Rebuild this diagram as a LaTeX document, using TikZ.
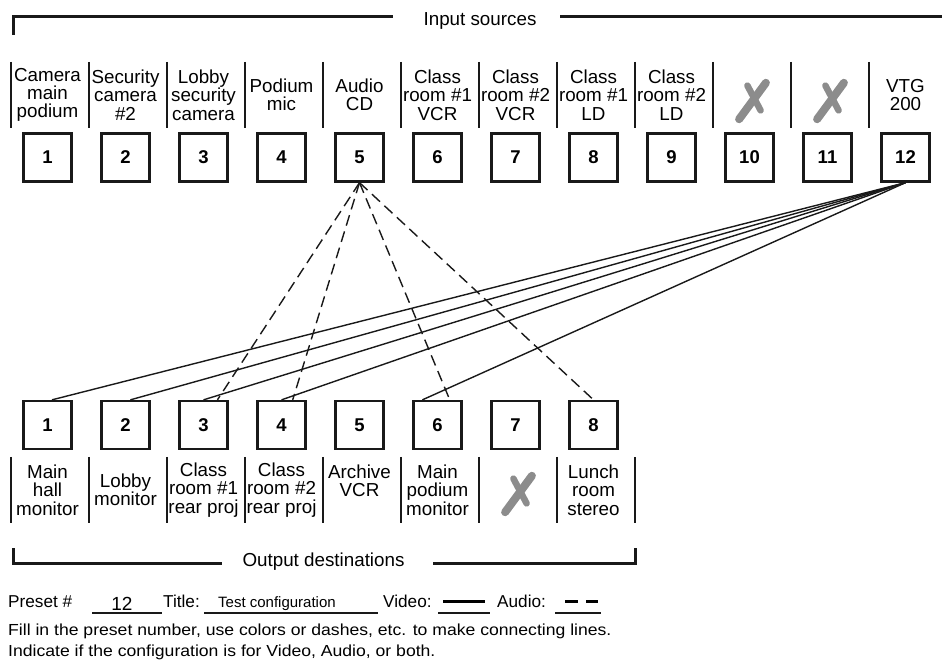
\documentclass[tikz,border=0pt]{standalone}
\usepackage{fontspec}
\setmainfont{Liberation Sans}
\newfontfamily\notefont[FakeStretch=1.1]{Liberation Sans}
\usepackage{tikz}
\usetikzlibrary{positioning}

\begin{document}
\begin{tikzpicture}[
    x=1pt, y=-1pt,
    font=\fontsize{18.8}{18.3}\selectfont,
    % Define specific node styles
    port_box/.style={rectangle, draw=black!90, line width=2.3pt, minimum size=48pt, inner sep=0pt, font=\fontsize{18.5}{18.5}\selectfont\bfseries},
    port_label/.style={rectangle, minimum width=73pt, minimum height=66pt, inner sep=0pt, align=center},
    sep_line/.style={line width=1.8pt, draw=black!90},
    bracket_line/.style={line width=3pt, draw=black!90},
    group_title/.style={inner sep=0pt},
    video_line/.style={line width=1.4pt, draw=black!90},
    audio_line/.style={line width=1.4pt, draw=black!90, dash pattern=on 11pt off 6pt},
    form_text/.style={inner sep=0pt, anchor=base west, font=\fontsize{17.2}{18}\selectfont},
    blank_line/.style={line width=1.7pt, draw=black!90},
    xmark/.pic={
        \draw[line width=8pt, line cap=round, black!45] (-10.4,19.2) -- (16.4,-17.2);
        \draw[line width=6.5pt, line cap=round, black!45] (-2.1,-14.4) -- (11.1,10.4);
    },
]
\useasboundingbox (0,0) rectangle (942,663);

% Input sources (top row)
\node[group_title] (in_title) at (480,21) {Input sources};
\draw[bracket_line] (13,35) -- (13,17) -- (393,17);
\draw[bracket_line] (560,17) -- (942,17);

\node[port_label] (ls1) at (47.5,95) {Camera\\main\\podium};
\node[port_label] (ls2) at (125.5,95) {Security\\camera\\\#2};
\node[port_label] (ls3) at (203.5,95) {Lobby\\security\\camera};
\node[port_label] (ls4) at (281.5,95) {Podium\\mic};
\node[port_label] (ls5) at (359.5,95) {Audio\\CD};
\node[port_label] (ls6) at (437.5,95) {Class\\room \#1\\VCR};
\node[port_label] (ls7) at (515.5,95) {Class\\room \#2\\VCR};
\node[port_label] (ls8) at (593.5,95) {Class\\room \#1\\LD};
\node[port_label] (ls9) at (671.5,95) {Class\\room \#2\\LD};
\node[port_label] (ls10) at (749.5,95) {};
\node[port_label] (ls11) at (827.5,95) {};
\node[port_label] (ls12) at (905.5,95) {VTG\\200};
\pic at (749.5,100) {xmark};
\pic at (827.5,100) {xmark};

\node[port_box] (s1) at (47.5,157.5) {1};
\node[port_box] (s2) at (125.5,157.5) {2};
\node[port_box] (s3) at (203.5,157.5) {3};
\node[port_box] (s4) at (281.5,157.5) {4};
\node[port_box] (s5) at (359.5,157.5) {5};
\node[port_box] (s6) at (437.5,157.5) {6};
\node[port_box] (s7) at (515.5,157.5) {7};
\node[port_box] (s8) at (593.5,157.5) {8};
\node[port_box] (s9) at (671.5,157.5) {9};
\node[port_box] (s10) at (749.5,157.5) {10};
\node[port_box] (s11) at (827.5,157.5) {11};
\node[port_box] (s12) at (905.5,157.5) {12};

% Output destinations (bottom row)
\node[port_box] (d1) at (47.5,425) {1};
\node[port_box] (d2) at (125.5,425) {2};
\node[port_box] (d3) at (203.5,425) {3};
\node[port_box] (d4) at (281.5,425) {4};
\node[port_box] (d5) at (359.5,425) {5};
\node[port_box] (d6) at (437.5,425) {6};
\node[port_box] (d7) at (515.5,425) {7};
\node[port_box] (d8) at (593.5,425) {8};

\node[port_label] (ld1) at (47.5,490) {Main\\hall\\monitor};
\node[port_label] (ld2) at (125.5,490) {Lobby\\monitor};
\node[port_label] (ld3) at (203.5,490) {Class\\room \#1\\rear proj};
\node[port_label] (ld4) at (281.5,490) {Class\\room \#2\\rear proj};
\node[port_label] (ld5) at (359.5,490) {Archive\\VCR\\\mbox{}};
\node[port_label] (ld6) at (437.5,490) {Main\\podium\\monitor};
\node[port_label] (ld7) at (515.5,490) {};
\node[port_label] (ld8) at (593.5,490) {Lunch\\room\\stereo};
\pic at (515.5,493) {xmark};

\node[group_title] (out_title) at (323.5,562) {Output destinations};
\draw[bracket_line] (13,548) -- (13,563) -- (222,563);
\draw[bracket_line] (433,563) -- (635,563) -- (635,548);

% Column separators
\foreach \i in {1,...,12} \draw[sep_line] (ls\i.north west) -- (ls\i.south west);
\foreach \i in {1,...,8} \draw[sep_line] (ld\i.north west) -- (ld\i.south west);
\draw[sep_line] (635,457) -- (635,523);

% Connections: video (solid) and audio (dashed)
\draw[video_line] (s12.south) -- (d1.80);
\draw[video_line] (s12.south) -- (d2.79);
\draw[video_line] (s12.south) -- (d3.north);
\draw[video_line] (s12.south) -- (d4.north);
\draw[video_line] (s12.south) -- (d6.121);

\draw[audio_line] (s5.south) -- (d3.61);
\draw[audio_line] (s5.south) -- (d4.66);
\draw[audio_line] (s5.south) -- (d6.64);
\draw[audio_line] (s5.south) -- (d8.north);

% Preset form
\node[form_text] (preset_lbl) at (8,607) {Preset \#};
\node[form_text, anchor=base, font=\fontsize{19}{19}\selectfont] (preset_val) at (122,610) {12};
\draw[blank_line] (92,613) -- (162,613);
\node[form_text] (title_lbl) at (163,607) {Title:};
\node[form_text, anchor=base, font=\fontsize{15}{15}\selectfont] (title_val) at (277,607) {Test configuration};
\draw[blank_line] (204,613) -- (378,613);
\node[form_text] (video_lbl) at (383,607) {Video:};
\draw[blank_line] (438,613) -- (490,613);
\draw[line width=3pt] (443,601) -- (485,601);
\node[form_text] (audio_lbl) at (497,607) {Audio:};
\draw[blank_line] (555,613) -- (601,613);
\draw[line width=3pt] (565,601) -- (578,601) (586,601) -- (598,601);

\node[form_text, font=\notefont\fontsize{16}{18}\selectfont] (note1) at (8,635) {Fill in the preset number, use colors or dashes, etc. to make connecting lines.};
\node[form_text, font=\notefont\fontsize{16}{18}\selectfont] (note2) at (8,656) {Indicate if the configuration is for Video, Audio, or both.};

\end{tikzpicture}
\end{document}
